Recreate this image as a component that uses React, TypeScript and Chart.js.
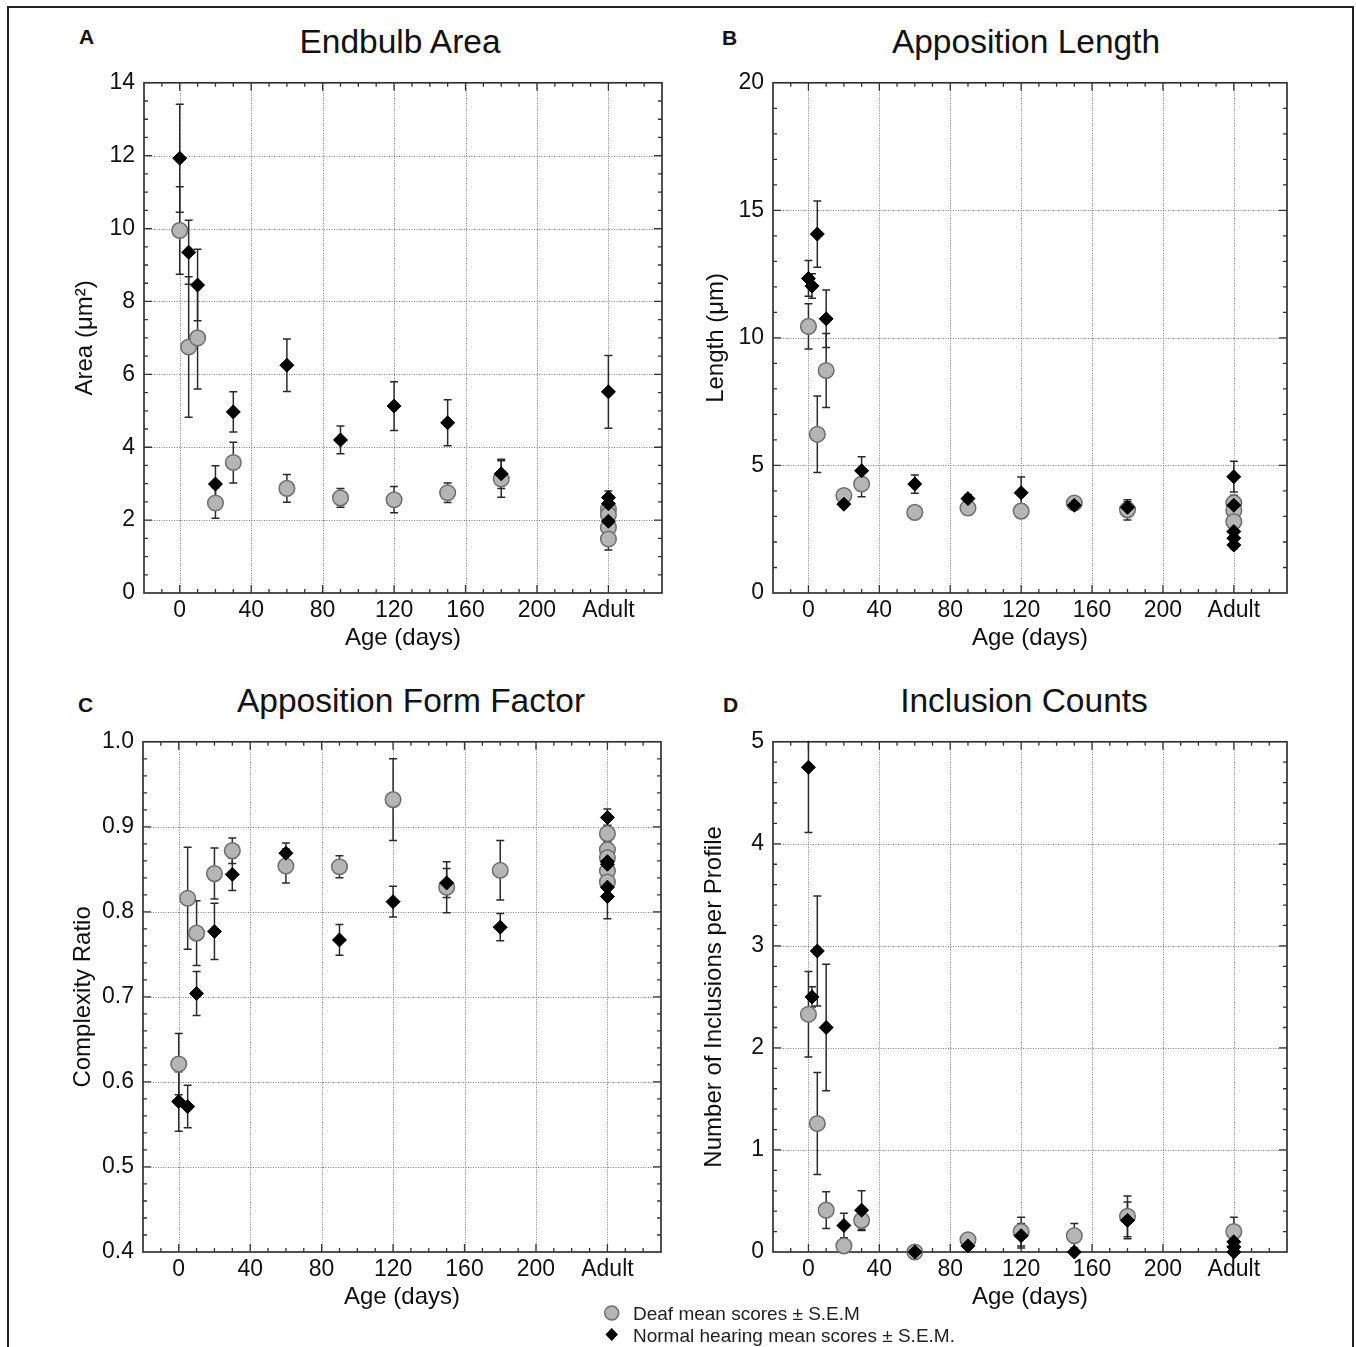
import React, { useEffect, useRef } from 'react';
import { Chart, registerables } from 'chart.js';

Chart.register(...registerables);

const FONT = '"Liberation Sans", Arial, Helvetica, sans-serif';

// ---------- shared x axis ----------
const xTickValues = [0, 40, 80, 120, 160, 200, 240];
const xTickLabels = ['0', '40', '80', '120', '160', '200', 'Adult'];
const xMin = -20;
const xMax = 270;
const xMinorStep = 10;

// ---------- Panel A: Endbulb Area ----------
const areaNormalX = [0, 5, 10, 20, 30, 60, 90, 120, 150, 180, 240, 240, 240, 240];
const areaNormalY = [11.93, 9.35, 8.45, 2.99, 4.97, 6.25, 4.2, 5.13, 4.67, 3.27, 5.52, 2.62, 2.45, 1.97];
const areaNormalSem = [1.48, 0.88, 0.98, 0.5, 0.55, 0.72, 0.38, 0.67, 0.63, 0.4, 1.0, 0.18, 0.2, 0.15];
const areaDeafX = [0, 5, 10, 20, 30, 60, 90, 120, 150, 180, 240, 240, 240, 240];
const areaDeafY = [9.95, 6.75, 7.0, 2.47, 3.58, 2.87, 2.61, 2.56, 2.75, 3.13, 2.3, 2.15, 1.8, 1.48];
const areaDeafSem = [1.2, 1.93, 1.4, 0.42, 0.56, 0.38, 0.26, 0.36, 0.27, 0.5, 0.2, 0.2, 0.2, 0.3];
const areaYTicks = [0, 2, 4, 6, 8, 10, 12, 14];

// ---------- Panel B: Apposition Length ----------
const lenNormalX = [0, 2, 5, 10, 20, 30, 60, 90, 120, 150, 180, 240, 240, 240, 240, 240];
const lenNormalY = [12.33, 12.03, 14.07, 10.75, 3.48, 4.79, 4.27, 3.7, 3.93, 3.44, 3.36, 4.56, 3.44, 2.41, 2.15, 1.88];
const lenNormalSem = [0.7, 0.48, 1.3, 1.13, 0.1, 0.55, 0.36, 0.15, 0.62, 0.15, 0.22, 0.6, 0.3, 0.2, 0.2, 0.15];
const lenDeafX = [0, 5, 10, 20, 30, 60, 90, 120, 150, 180, 240, 240, 240];
const lenDeafY = [10.45, 6.22, 8.72, 3.82, 4.27, 3.16, 3.33, 3.21, 3.53, 3.26, 3.53, 3.23, 2.79];
const lenDeafSem = [0.89, 1.5, 1.45, 0.15, 0.5, 0.22, 0.25, 0.27, 0.12, 0.4, 0.3, 0.3, 0.3];
const lenYTicks = [0, 5, 10, 15, 20];

// ---------- Panel C: Apposition Form Factor ----------
const ffNormalX = [0, 5, 10, 20, 30, 60, 90, 120, 150, 180, 240, 240, 240, 240, 240];
const ffNormalY = [0.577, 0.571, 0.704, 0.777, 0.844, 0.869, 0.767, 0.812, 0.834, 0.782, 0.911, 0.859, 0.856, 0.829, 0.818];
const ffNormalSem = [0.035, 0.025, 0.026, 0.033, 0.019, 0.012, 0.018, 0.018, 0.017, 0.016, 0.01, 0.01, 0.01, 0.012, 0.026];
const ffDeafX = [0, 5, 10, 20, 30, 60, 90, 120, 150, 180, 240, 240, 240, 240, 240];
const ffDeafY = [0.621, 0.816, 0.775, 0.845, 0.872, 0.854, 0.853, 0.932, 0.829, 0.849, 0.892, 0.873, 0.864, 0.848, 0.835];
const ffDeafSem = [0.036, 0.06, 0.038, 0.03, 0.015, 0.02, 0.013, 0.048, 0.03, 0.035, 0.01, 0.01, 0.01, 0.01, 0.01];
const ffYTicks = [0.4, 0.5, 0.6, 0.7, 0.8, 0.9, 1.0];

// ---------- Panel D: Inclusion Counts ----------
const incNormalX = [0, 2, 5, 10, 20, 30, 60, 90, 120, 150, 180, 240, 240, 240];
const incNormalY = [4.75, 2.5, 2.95, 2.2, 0.26, 0.41, 0, 0.06, 0.16, 0, 0.31, 0.1, 0.05, 0];
const incNormalSem = [0.64, 0.1, 0.54, 0.62, 0.12, 0.19, 0, 0.03, 0.12, 0, 0.18, 0.05, 0.03, 0];
const incDeafX = [0, 5, 10, 20, 30, 60, 90, 120, 150, 180, 240];
const incDeafY = [2.33, 1.26, 0.41, 0.06, 0.31, 0, 0.12, 0.2, 0.16, 0.35, 0.2];
const incDeafSem = [0.42, 0.5, 0.18, 0.03, 0.1, 0, 0.03, 0.14, 0.12, 0.2, 0.14];
const incYTicks = [0, 1, 2, 3, 4, 5];

const legendLabels = ['Deaf mean scores \u00b1 S.E.M', 'Normal hearing mean scores \u00b1 S.E.M.'];

type PanelCfg = {
  key: string;
  letter: string;
  title: string;
  yTitle: string;
  yTicks: number[];
  yMinor: number;
  yDecimals: number;
  normal: { x: number[]; y: number[]; sem: number[] };
  deaf: { x: number[]; y: number[]; sem: number[] };
  canvas: { left: number; top: number; width: number; height: number };
  yTitlePad: number;
};

const panels: PanelCfg[] = [
  {
    key: 'A', letter: 'A', title: 'Endbulb Area', yTitle: 'Area (\u03bcm\u00b2)',
    yTicks: areaYTicks, yMinor: 0.5, yDecimals: 0,
    normal: { x: areaNormalX, y: areaNormalY, sem: areaNormalSem },
    deaf: { x: areaDeafX, y: areaDeafY, sem: areaDeafSem },
    canvas: { left: 60, top: 60, width: 620, height: 600 }, yTitlePad: 10.5,
  },
  {
    key: 'B', letter: 'B', title: 'Apposition Length', yTitle: 'Length (\u03bcm)',
    yTicks: lenYTicks, yMinor: 1, yDecimals: 0,
    normal: { x: lenNormalX, y: lenNormalY, sem: lenNormalSem },
    deaf: { x: lenDeafX, y: lenDeafY, sem: lenDeafSem },
    canvas: { left: 689, top: 60, width: 616, height: 600 }, yTitlePad: 12.5,
  },
  {
    key: 'C', letter: 'C', title: 'Apposition Form Factor', yTitle: 'Complexity Ratio',
    yTicks: ffYTicks, yMinor: 0.02, yDecimals: 1,
    normal: { x: ffNormalX, y: ffNormalY, sem: ffNormalSem },
    deaf: { x: ffDeafX, y: ffDeafY, sem: ffDeafSem },
    canvas: { left: 59, top: 719, width: 620, height: 600 }, yTitlePad: 10,
  },
  {
    key: 'D', letter: 'D', title: 'Inclusion Counts', yTitle: 'Number of Inclusions per Profile',
    yTicks: incYTicks, yMinor: 0.2, yDecimals: 0,
    normal: { x: incNormalX, y: incNormalY, sem: incNormalSem },
    deaf: { x: incDeafX, y: incDeafY, sem: incDeafSem },
    canvas: { left: 689, top: 719, width: 616, height: 600 }, yTitlePad: 11.3,
  },
];

function minorValues(min: number, max: number, step: number): number[] {
  const out: number[] = [];
  const n = Math.round((max - min) / step);
  for (let i = 0; i <= n; i++) out.push(min + i * step);
  return out;
}

function makeDecorPlugin(p: PanelCfg) {
  return {
    id: 'decor' + p.key,
    beforeDatasetsDraw(chart: any) {
      const { ctx, chartArea: ca } = chart;
      const xs = chart.scales.x;
      const ys = chart.scales.y;
      const yMin = p.yTicks[0];
      const yMax = p.yTicks[p.yTicks.length - 1];
      ctx.save();
      // dotted grid
      ctx.strokeStyle = '#7a7a7a';
      ctx.lineWidth = 1;
      ctx.setLineDash([1, 1.5]);
      for (const v of xTickValues) {
        const px = Math.round(xs.getPixelForValue(v)) + 0.5;
        ctx.beginPath();
        ctx.moveTo(px, ca.top);
        ctx.lineTo(px, ca.bottom);
        ctx.stroke();
      }
      for (const v of p.yTicks) {
        if (v === yMin || v === yMax) continue;
        const py = Math.round(ys.getPixelForValue(v)) + 0.5;
        ctx.beginPath();
        ctx.moveTo(ca.left, py);
        ctx.lineTo(ca.right, py);
        ctx.stroke();
      }
      ctx.setLineDash([]);
      // tick marks (inward, all four sides)
      ctx.strokeStyle = '#333';
      ctx.lineWidth = 1.3;
      const majorLen = 8;
      const minorLen = 4;
      for (const v of minorValues(xMin, xMax, xMinorStep)) {
        if (v <= xMin || v >= xMax) continue;
        const isMajor = xTickValues.some((t) => Math.abs(t - v) < 1e-6);
        const len = isMajor ? majorLen : minorLen;
        const px = xs.getPixelForValue(v);
        ctx.beginPath();
        ctx.moveTo(px, ca.bottom);
        ctx.lineTo(px, ca.bottom - len);
        ctx.moveTo(px, ca.top);
        ctx.lineTo(px, ca.top + len);
        ctx.stroke();
      }
      for (const v of minorValues(yMin, yMax, p.yMinor)) {
        if (v <= yMin + 1e-9 || v >= yMax - 1e-9) continue;
        const isMajor = p.yTicks.some((t) => Math.abs(t - v) < 1e-6);
        const len = isMajor ? majorLen : minorLen;
        const py = ys.getPixelForValue(v);
        ctx.beginPath();
        ctx.moveTo(ca.left, py);
        ctx.lineTo(ca.left + len, py);
        ctx.moveTo(ca.right, py);
        ctx.lineTo(ca.right - len, py);
        ctx.stroke();
      }
      // frame
      ctx.strokeStyle = '#333';
      ctx.lineWidth = 1.7;
      ctx.strokeRect(ca.left, ca.top, ca.right - ca.left, ca.bottom - ca.top);
      // error bars (clipped to plot area)
      ctx.beginPath();
      ctx.rect(ca.left, ca.top - 1, ca.right - ca.left, ca.bottom - ca.top + 2);
      ctx.clip();
      ctx.strokeStyle = '#2a2a2a';
      ctx.lineWidth = 1.5;
      const cap = 4;
      const drawErr = (s: { x: number[]; y: number[]; sem: number[] }) => {
        for (let i = 0; i < s.x.length; i++) {
          if (!s.sem[i]) continue;
          const px = xs.getPixelForValue(s.x[i]);
          const pTop = ys.getPixelForValue(s.y[i] + s.sem[i]);
          const pBot = ys.getPixelForValue(s.y[i] - s.sem[i]);
          ctx.beginPath();
          ctx.moveTo(px, pTop);
          ctx.lineTo(px, pBot);
          ctx.moveTo(px - cap, pTop);
          ctx.lineTo(px + cap, pTop);
          ctx.moveTo(px - cap, pBot);
          ctx.lineTo(px + cap, pBot);
          ctx.stroke();
        }
      };
      drawErr(p.deaf);
      drawErr(p.normal);
      ctx.restore();
    },
  };
}

function buildConfig(p: PanelCfg): any {
  const tickFont = { family: FONT, size: 23 };
  const titleFont = { family: FONT, size: 24 };
  return {
    type: 'scatter',
    data: {
      datasets: [
        {
          label: legendLabels[1],
          data: p.normal.x.map((x, i) => ({ x, y: p.normal.y[i] })),
          pointStyle: 'rectRot',
          pointRadius: 7,
          backgroundColor: '#000',
          borderColor: '#000',
          borderWidth: 1,
          clip: false,
          showLine: false,
        },
        {
          label: legendLabels[0],
          data: p.deaf.x.map((x, i) => ({ x, y: p.deaf.y[i] })),
          pointStyle: 'circle',
          pointRadius: 7.8,
          backgroundColor: '#b5b5b5',
          borderColor: '#6e6e6e',
          borderWidth: 1.5,
          clip: false,
          showLine: false,
        },
      ],
    },
    options: {
      animation: false,
      responsive: false,
      maintainAspectRatio: false,
      devicePixelRatio: 1,
      events: [],
      layout: { padding: { top: 18, right: 18, left: 0, bottom: 0 } },
      plugins: { legend: { display: false }, tooltip: { enabled: false }, title: { display: false } },
      scales: {
        x: {
          type: 'linear',
          min: xMin,
          max: xMax,
          afterBuildTicks: (s: any) => {
            s.ticks = xTickValues.map((v) => ({ value: v }));
          },
          afterFit: (s: any) => {
            s.height = 67;
          },
          grid: { display: false, drawTicks: false },
          border: { display: false },
          ticks: {
            autoSkip: false,
            maxRotation: 0,
            padding: 4,
            color: '#111',
            font: tickFont,
            callback: (v: number) => {
              const idx = xTickValues.indexOf(v);
              return idx >= 0 ? xTickLabels[idx] : '';
            },
          },
          title: {
            display: true,
            text: 'Age (days)',
            color: '#111',
            font: titleFont,
            padding: { top: 0, bottom: 7.5 },
          },
        },
        y: {
          type: 'linear',
          min: p.yTicks[0],
          max: p.yTicks[p.yTicks.length - 1],
          afterBuildTicks: (s: any) => {
            s.ticks = p.yTicks.map((v) => ({ value: v }));
          },
          afterFit: (s: any) => {
            s.width = 84;
          },
          grid: { display: false, drawTicks: false },
          border: { display: false },
          ticks: {
            autoSkip: false,
            padding: 9,
            color: '#111',
            font: tickFont,
            callback: (v: number) => Number(v).toFixed(p.yDecimals),
          },
          title: {
            display: true,
            text: p.yTitle,
            color: '#111',
            font: titleFont,
            padding: { top: p.yTitlePad, bottom: 0 },
          },
        },
      },
    },
    plugins: [makeDecorPlugin(p)],
  };
}

function Panel({ p }: { p: PanelCfg }) {
  const ref = useRef<HTMLCanvasElement>(null);
  useEffect(() => {
    if (!ref.current) return;
    const chart = new Chart(ref.current, buildConfig(p));
    return () => chart.destroy();
  }, [p]);
  const c = p.canvas;
  return (
    <canvas
      ref={ref}
      width={c.width}
      height={c.height}
      style={{ position: 'absolute', left: c.left, top: c.top, width: c.width, height: c.height }}
    />
  );
}

const titlePos: Record<string, { cx: number; top: number; lx: number; ltop: number }> = {
  A: { cx: 400, top: 25, lx: 79, ltop: 26 },
  B: { cx: 1026, top: 25, lx: 722, ltop: 27 },
  C: { cx: 411, top: 684, lx: 78, ltop: 694 },
  D: { cx: 1024, top: 684, lx: 723, ltop: 694 },
};

export default function App() {
  return (
    <div
      style={{
        position: 'absolute',
        left: 0,
        top: 0,
        width: 1356,
        height: 1347,
        overflow: 'hidden',
        background: '#fff',
        fontFamily: FONT,
      }}
    >
      <div
        style={{
          position: 'absolute',
          left: 7,
          top: 6,
          width: 1347,
          height: 1400,
          border: '2px solid #222',
          boxSizing: 'border-box',
        }}
      />
      {panels.map((p) => (
        <Panel key={p.key} p={p} />
      ))}
      {panels.map((p) => {
        const t = titlePos[p.key];
        return (
          <React.Fragment key={'t' + p.key}>
            <div
              style={{
                position: 'absolute',
                left: t.cx - 250,
                width: 500,
                top: t.top,
                textAlign: 'center',
                fontSize: 33.5,
                lineHeight: '33px',
                color: '#111',
                whiteSpace: 'nowrap',
              }}
            >
              {p.title}
            </div>
            <div
              style={{
                position: 'absolute',
                left: t.lx,
                top: t.ltop,
                fontSize: 21,
                lineHeight: '21px',
                fontWeight: 'bold',
                color: '#111',
              }}
            >
              {p.letter}
            </div>
          </React.Fragment>
        );
      })}
      {/* legend */}
      <svg width={30} height={50} style={{ position: 'absolute', left: 597, top: 1300 }}>
        <circle cx={14.7} cy={13} r={7} fill="#b5b5b5" stroke="#6e6e6e" strokeWidth={1.5} />
        <polygon points="14.7,28 21,34.5 14.7,41 8.4,34.5" fill="#000" />
      </svg>
      <div
        style={{
          position: 'absolute',
          left: 633,
          top: 1303.5,
          fontSize: 19,
          lineHeight: '19px',
          color: '#222',
          whiteSpace: 'nowrap',
        }}
      >
        {legendLabels[0]}
      </div>
      <div
        style={{
          position: 'absolute',
          left: 633,
          top: 1325.5,
          fontSize: 19,
          lineHeight: '19px',
          color: '#222',
          whiteSpace: 'nowrap',
        }}
      >
        {legendLabels[1]}
      </div>
    </div>
  );
}
